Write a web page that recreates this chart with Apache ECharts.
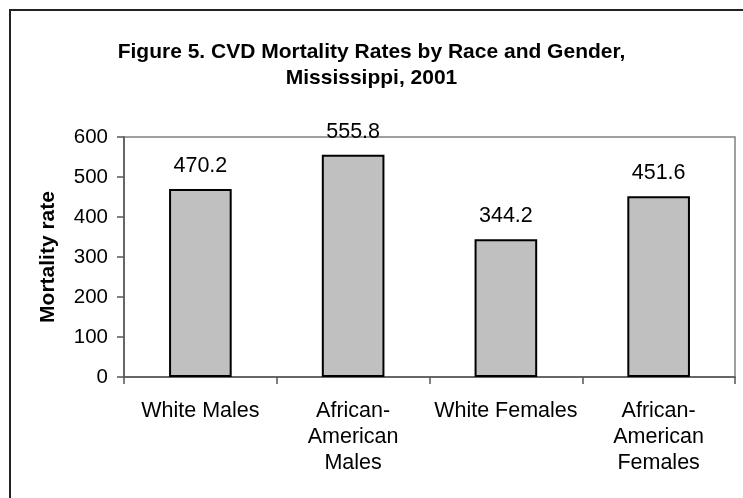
<!DOCTYPE html>
<html>
<head>
<meta charset="utf-8">
<script src="https://cdn.jsdelivr.net/npm/echarts@6/dist/echarts.min.js"></script>
<style>
html,body{margin:0;padding:0;background:#fff;}
#wrap{position:relative;width:743px;height:498px;overflow:hidden;}
#frame{position:absolute;left:9px;top:9px;width:760px;height:520px;border:2px solid #222;box-sizing:border-box;}
#chart{position:absolute;left:0;top:0;width:743px;height:498px;}
</style>
</head>
<body>
<div id="wrap"><div id="frame"></div><div id="chart"></div></div>
<script>
var categories = ['White Males', 'African-\nAmerican\nMales', 'White Females', 'African-\nAmerican\nFemales'];
var values = [470.2, 555.8, 344.2, 451.6];
var titleText = 'Figure 5. CVD Mortality Rates by Race and Gender,\nMississippi, 2001';
var yName = 'Mortality rate';

var chart = echarts.init(document.getElementById('chart'), null, {renderer: 'canvas'});
var font = 'Liberation Sans, Arial, sans-serif';
chart.setOption({
  animation: false,
  title: {
    text: titleText,
    left: 'center',
    top: 34,
    textStyle: {fontFamily: font, fontSize: 21, fontWeight: 'bold', color: '#000', lineHeight: 26}
  },
  grid: {left: 124, right: 8, top: 137, bottom: 121, show: true, borderColor: '#808080', borderWidth: 1.5, backgroundColor: 'transparent'},
  xAxis: {
    type: 'category',
    data: categories,
    boundaryGap: true,
    axisLine: {lineStyle: {color: '#555', width: 1.5}},
    axisTick: {show: true, length: 7, lineStyle: {color: '#555', width: 1.5}},
    axisLabel: {fontFamily: font, fontSize: 21.5, color: '#000', lineHeight: 26, margin: 21, interval: 0}
  },
  yAxis: {
    type: 'value',
    min: 0, max: 600, interval: 100,
    name: yName,
    nameLocation: 'middle',
    nameGap: 65,
    nameTextStyle: {fontFamily: font, fontSize: 21, fontWeight: 'bold', color: '#000'},
    axisLine: {show: true, lineStyle: {color: '#555', width: 1.5}},
    axisTick: {show: true, length: 7, lineStyle: {color: '#555', width: 1.5}},
    splitLine: {show: false},
    axisLabel: {fontFamily: font, fontSize: 20.5, color: '#000', margin: 16}
  },
  series: [{
    type: 'bar',
    data: values,
    barWidth: '41%',
    itemStyle: {color: '#C0C0C0', borderColor: '#000', borderWidth: 2},
    label: {show: true, position: 'top', distance: 12, fontFamily: font, fontSize: 21.5, color: '#000'}
  }]
});
</script>
</body>
</html>
